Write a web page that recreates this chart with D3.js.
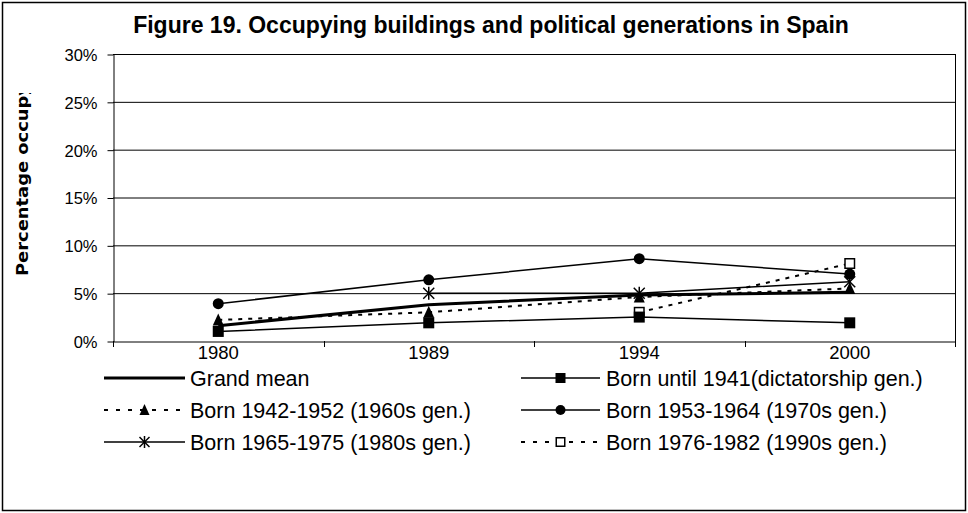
<!DOCTYPE html>
<html>
<head>
<meta charset="utf-8">
<script src="https://cdn.jsdelivr.net/npm/d3@7"></script>
<style>
  html, body { margin: 0; padding: 0; background: #fff; }
  svg { display: block; font-family: "Liberation Sans", Arial, sans-serif; }
</style>
</head>
<body>
<svg id="chart" width="968" height="513"></svg>
<script>
// ---- data ----
const years = ["1980", "1989", "1994", "2000"];
const grandMean    = [1.6, 3.8, 4.8, 5.1];
const dictatorship = [1.0, 1.9, 2.5, 1.9];
const gen1960s     = [2.2, 3.0, 4.6, 5.5];
const gen1970s     = [3.9, 6.4, 8.6, 7.0];
const gen1980s     = [null, 5.0, 5.0, 6.2];
const gen1990s     = [null, null, 3.0, 8.1];
const yTicks = [0, 5, 10, 15, 20, 25, 30];
const titleText = "Figure 19. Occupying buildings and political generations in Spain";
const yTitle = "Percentage occupy";

const series = [
  { name: "Grand mean", values: grandMean, marker: "none", dash: null, width: 3 },
  { name: "Born until 1941(dictatorship gen.)", values: dictatorship, marker: "square", dash: null, width: 1.5 },
  { name: "Born 1942-1952 (1960s gen.)", values: gen1960s, marker: "triangle", dash: "4,6", width: 2 },
  { name: "Born 1953-1964 (1970s gen.)", values: gen1970s, marker: "circle", dash: null, width: 1.5 },
  { name: "Born 1965-1975 (1980s gen.)", values: gen1980s, marker: "star", dash: null, width: 1.5 },
  { name: "Born 1976-1982 (1990s gen.)", values: gen1990s, marker: "opensquare", dash: "4,6", width: 2 }
];

const svg = d3.select("#chart");
const W = 968, H = 513;
const plot = { left: 113, right: 955, top: 54, bottom: 341 };

// outer border
svg.append("rect").attr("x", 2.5).attr("y", 2.5).attr("width", W - 5).attr("height", H - 5)
  .attr("fill", "#fff").attr("stroke", "#000").attr("stroke-width", 1.5);

const x = d3.scaleBand().domain(years).range([plot.left, plot.right]).padding(0);
const y = d3.scaleLinear().domain([0, 30]).range([plot.bottom, plot.top]);

// gridlines
svg.append("g").selectAll("line").data(yTicks.filter(d => d > 0)).join("line")
  .attr("x1", plot.left).attr("x2", plot.right)
  .attr("y1", d => y(d) + 0.5).attr("y2", d => y(d) + 0.5)
  .attr("stroke", "#000").attr("stroke-width", 1);

// right border of plot
svg.append("line").attr("x1", plot.right + 0.5).attr("x2", plot.right + 0.5)
  .attr("y1", plot.top).attr("y2", plot.bottom + 6).attr("stroke", "#000");

// y axis
const yAxis = d3.axisLeft(y).tickValues(yTicks).tickFormat(d => d + "%").tickSize(6).tickSizeOuter(0);
const gy = svg.append("g").attr("transform", `translate(${plot.left + 0.5},0.5)`).call(yAxis);
gy.select(".domain").attr("stroke", "#000");
gy.selectAll(".tick text").attr("font-size", 16.5).attr("font-family", "Liberation Sans, Arial, sans-serif")
  .attr("fill", "#000").attr("x", -16).attr("dy", "0.36em");

// x axis
const xAxis = d3.axisBottom(x).tickSize(0).tickSizeOuter(0);
const gx = svg.append("g").attr("transform", `translate(0,${plot.bottom + 0.5})`).call(xAxis);
gx.select(".domain").attr("stroke", "#000");
gx.selectAll(".tick text").attr("font-size", 18.5).attr("font-family", "Liberation Sans, Arial, sans-serif")
  .attr("fill", "#000").attr("y", 4).attr("dy", "0.71em");
const bounds = years.map(d => x(d)).concat([x.range()[1]]);
svg.append("g").selectAll("line").data(bounds).join("line")
  .attr("x1", d => Math.round(d) + 0.5).attr("x2", d => Math.round(d) + 0.5)
  .attr("y1", plot.bottom).attr("y2", plot.bottom + 6).attr("stroke", "#000");

// title
svg.append("text").attr("x", 491).attr("y", 33).attr("text-anchor", "middle")
  .attr("font-size", 23).attr("font-weight", "bold").text(titleText);

// y title (clipped)
svg.append("clipPath").attr("id", "ytclip").append("rect")
  .attr("x", 0).attr("y", 93).attr("width", 60).attr("height", 300);
svg.append("g").attr("clip-path", "url(#ytclip)")
  .append("text").attr("transform", "translate(28,276) rotate(-90)")
  .attr("font-size", 15.5).attr("font-weight", "bold")
  .attr("font-family", "DejaVu Sans, sans-serif")
  .attr("textLength", 192).attr("lengthAdjust", "spacingAndGlyphs")
  .text(yTitle);

// markers
function drawMarker(g, type, cx, cy, s) {
  if (type === "square") {
    g.append("rect").attr("x", cx - s / 2).attr("y", cy - s / 2).attr("width", s).attr("height", s).attr("fill", "#000");
  } else if (type === "opensquare") {
    g.append("rect").attr("x", cx - s / 2 + 0.75).attr("y", cy - s / 2 + 0.75).attr("width", s - 1.5).attr("height", s - 1.5)
      .attr("fill", "#fff").attr("stroke", "#000").attr("stroke-width", 1.5);
  } else if (type === "circle") {
    g.append("circle").attr("cx", cx).attr("cy", cy).attr("r", s / 2).attr("fill", "#000");
  } else if (type === "triangle") {
    const h = s;
    g.append("path").attr("d", `M${cx},${cy - h / 2 - 1}L${cx + s / 2},${cy + h / 2}L${cx - s / 2},${cy + h / 2}Z`).attr("fill", "#000");
  } else if (type === "star") {
    const r = s / 2;
    const p = g.append("g").attr("stroke", "#000").attr("stroke-width", 1.5);
    p.append("line").attr("x1", cx - r).attr("x2", cx + r).attr("y1", cy - r).attr("y2", cy + r);
    p.append("line").attr("x1", cx - r).attr("x2", cx + r).attr("y1", cy + r).attr("y2", cy - r);
    p.append("line").attr("x1", cx).attr("x2", cx).attr("y1", cy - r - 1).attr("y2", cy + r + 1);
  }
}

const line = d3.line().defined(d => d.v !== null).x(d => x(d.k) + x.bandwidth() / 2).y(d => y(d.v));
const gS = svg.append("g");
series.forEach(s => {
  const pts = years.map((k, i) => ({ k, v: s.values[i] }));
  gS.append("path").datum(pts).attr("d", line).attr("fill", "none")
    .attr("stroke", "#000").attr("stroke-width", s.width)
    .attr("stroke-dasharray", s.dash);
});
// open squares sit underneath the other markers
const markerOrder = [5, 1, 3, 4, 2];
markerOrder.forEach(si => {
  const s = series[si];
  const g = gS.append("g");
  years.forEach((k, i) => {
    if (s.values[i] === null) return;
    drawMarker(g, s.marker, x(k) + x.bandwidth() / 2, y(s.values[i]), 11);
  });
});

// legend
const legendCols = [{ x1: 104, x2: 185, tx: 190 }, { x1: 521, x2: 600, tx: 606 }];
const legendRows = [378, 410, 442];
series.forEach((s, i) => {
  const col = legendCols[i % 2], row = legendRows[Math.floor(i / 2)];
  const g = svg.append("g");
  g.append("line").attr("x1", col.x1).attr("x2", col.x2).attr("y1", row).attr("y2", row)
    .attr("stroke", "#000").attr("stroke-width", s.width).attr("stroke-dasharray", s.dash ? "4,8" : null);
  if (s.marker !== "none") drawMarker(g, s.marker, (col.x1 + col.x2) / 2, row, 10);
  g.append("text").attr("x", col.tx).attr("y", row).attr("dy", "0.35em")
    .attr("font-size", 21.5).text(s.name);
});
</script>
</body>
</html>
